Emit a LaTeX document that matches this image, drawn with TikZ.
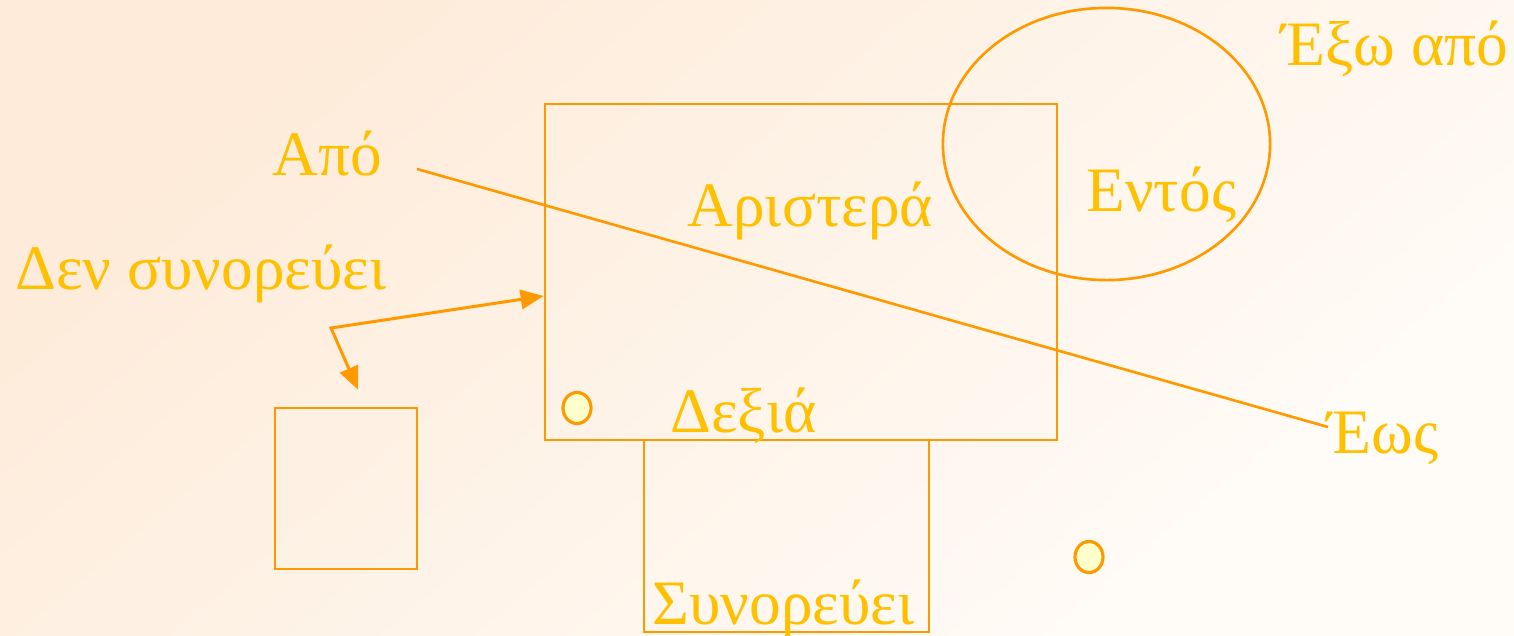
\documentclass[tikz,border=0pt]{standalone}
\usepackage{fontspec}
\setmainfont{Liberation Serif}
\usepackage{tikz}
\usetikzlibrary{arrows.meta, shapes.geometric, calc}
\definecolor{textgold}{RGB}{255, 192, 0}
\definecolor{lineorange}{RGB}{255, 153, 0}
\definecolor{peachbg}{RGB}{254, 235, 217}
\definecolor{creambg}{RGB}{255, 252, 248}
\definecolor{dotfill}{RGB}{255, 255, 204}

\begin{document}
\begin{tikzpicture}[
    x=0.01cm, y=-0.01cm,
    label/.style={
        inner sep=0pt,
        anchor=base west,
        text=textgold,
        font=\fontsize{18}{20}\selectfont
    },
    region/.style={
        rectangle,
        draw=lineorange,
        line width=0.75pt,
        inner sep=0pt
    },
    zone/.style={
        ellipse,
        draw=lineorange,
        line width=0.75pt,
        inner sep=0pt
    },
    dot/.style={
        ellipse,
        draw=lineorange,
        fill=dotfill,
        line width=0.9pt,
        inner sep=0pt,
        minimum width=0.28cm,
        minimum height=0.31cm
    },
    segment/.style={
        draw=lineorange,
        line width=0.75pt
    },
    twoarrow/.style={
        {Triangle[length=6.5pt, width=5.5pt]}-{Triangle[length=6.5pt, width=5.5pt]},
        draw=lineorange,
        line width=0.85pt
    }
]

    % Background
    \shade[top color=peachbg, bottom color=creambg, shading angle=40]
        (0,0) rectangle (1514,636);
    \useasboundingbox (0,0) rectangle (1514,636);

    % Regions
    \node[region, minimum width=5.12cm, minimum height=3.36cm] (big) at (801,272) {};
    \node[region, minimum width=2.85cm, minimum height=1.92cm] (lower) at (786.5,536) {};
    \node[region, minimum width=1.42cm, minimum height=1.61cm] (square) at (346,488.5) {};
    \node[zone, minimum width=3.27cm, minimum height=2.72cm] (circle) at (1106.5,144) {};

    % Points
    \node[dot] (pin) at (577,408) {};
    \node[dot] (pout) at (1089,557) {};

    % Labels
    \node[label] (apo) at (272,175) {Από};
    \node[label] (den) at (15,289) {Δεν συνορεύει};
    \node[label] (aristera) at (687,226) {Αριστερά};
    \node[label] (entos) at (1086,211) {Εντός};
    \node[label] (exo) at (1281,65) {Έξω από};
    \node[label] (eos) at (1327,453) {Έως};
    \node[label] (dexia) at (670,432) {Δεξιά};
    \node[label] (syn) at (652,624) {Συνορεύει};

    % Connectors
    \coordinate (from) at (417,169);
    \coordinate (to) at (1328,427);
    \draw[segment] (from) -- (to);
    \coordinate (bend) at (331,328);
    \draw[twoarrow] ([xshift=0.12cm, yshift=0.17cm]square.north) -- (bend) -- ([yshift=-0.24cm]big.west);

\end{tikzpicture}
\end{document}
